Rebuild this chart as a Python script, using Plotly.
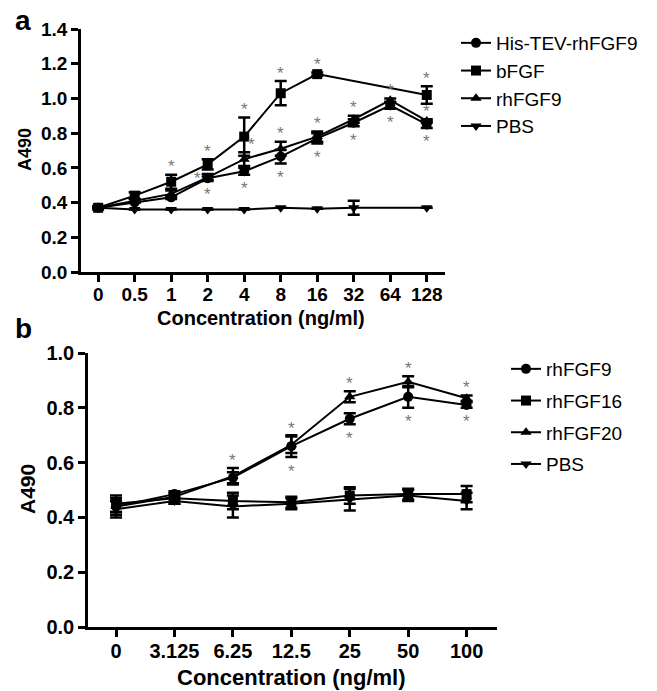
import plotly.graph_objects as go

W, H = 657, 691

# ---------------- Panel a data ----------------
conc_a = ["0", "0.5", "1", "2", "4", "8", "16", "32", "64", "128"]
his_tev = [0.37, 0.40, 0.43, 0.54, 0.58, 0.665, 0.77, 0.86, 0.96, 0.85]
his_tev_err = [0.0, 0.0, 0.01, 0.01, 0.02, 0.04, 0.03, 0.02, 0.02, 0.02]
bfgf = [0.37, 0.44, 0.52, 0.62, 0.78, 1.03, 1.14, None, None, 1.02]
bfgf_err = [0.01, 0.02, 0.04, 0.03, 0.11, 0.07, 0.01, 0.0, 0.0, 0.05]
rhfgf9_a = [0.37, 0.41, 0.45, 0.545, 0.65, 0.71, 0.78, 0.88, 0.99, 0.87]
rhfgf9_a_err = [0.0, 0.01, 0.02, 0.02, 0.04, 0.04, 0.03, 0.02, 0.01, 0.01]
pbs_a = [0.37, 0.36, 0.36, 0.36, 0.36, 0.37, 0.365, 0.37, None, 0.37]
pbs_a_err = [0.0, 0.0, 0.0, 0.0, 0.0, 0.0, 0.0, 0.04, 0.0, 0.0]

# significance marks (u = above, d = below, l = left of marker, ur = above right)
his_tev_sig = [None, None, None, "d", "d", "d", "d", "d", "d", "d"]
bfgf_sig = [None, None, "u", "u", "u", "u", "u", None, None, "u"]
rhfgf9_a_sig = [None, None, None, "l", "ur", "u", "u", "u", "u", "u"]

# ---------------- Panel b data ----------------
conc_b = ["0", "3.125", "6.25", "12.5", "25", "50", "100"]
rhfgf9_b = [0.44, 0.485, 0.545, 0.66, 0.76, 0.84, 0.81]
rhfgf9_b_err = [0.03, 0.01, 0.02, 0.04, 0.02, 0.04, 0.01]
rhfgf16 = [0.45, 0.47, 0.46, 0.455, 0.48, 0.485, 0.485]
rhfgf16_err = [0.03, 0.02, 0.03, 0.02, 0.03, 0.02, 0.03]
rhfgf20 = [0.44, 0.475, 0.55, 0.665, 0.84, 0.895, 0.835]
rhfgf20_err = [0.02, 0.01, 0.03, 0.03, 0.02, 0.02, 0.01]
pbs_b = [0.43, 0.46, 0.44, 0.45, 0.465, 0.48, 0.46]
pbs_b_err = [0.03, 0.01, 0.04, 0.02, 0.04, 0.02, 0.03]

rhfgf9_b_sig = [None, None, None, "d", "d", "d", "d"]
rhfgf20_sig = [None, None, "u", "u", "u", "u", "u"]

FONT = "Liberation Sans, Arial, sans-serif"

fig = go.Figure()


def add_series(x, y, err, name, symbol, xa, ya, legend, size):
    fig.add_trace(go.Scatter(
        x=x, y=y, name=name, mode="lines+markers",
        xaxis=xa, yaxis=ya, legend=legend, legendgroup=name + xa,
        connectgaps=True,
        line=dict(color="black", width=2),
        marker=dict(symbol=symbol, size=size, color="black"),
        error_y=dict(type="data", array=err, visible=True, color="black",
                     thickness=2.5, width=6),
    ))


add_series(conc_a, his_tev, his_tev_err, "His-TEV-rhFGF9", "circle", "x", "y", "legend", 10)
add_series(conc_a, bfgf, bfgf_err, "bFGF", "square", "x", "y", "legend", 10)
add_series(conc_a, rhfgf9_a, rhfgf9_a_err, "rhFGF9", "triangle-up", "x", "y", "legend", 10)
add_series(conc_a, pbs_a, pbs_a_err, "PBS", "triangle-down", "x", "y", "legend", 10)

add_series(conc_b, rhfgf9_b, rhfgf9_b_err, "rhFGF9", "circle", "x2", "y2", "legend2", 10)
add_series(conc_b, rhfgf16, rhfgf16_err, "rhFGF16", "square", "x2", "y2", "legend2", 10)
add_series(conc_b, rhfgf20, rhfgf20_err, "rhFGF20", "triangle-up", "x2", "y2", "legend2", 10)
add_series(conc_b, pbs_b, pbs_b_err, "PBS", "triangle-down", "x2", "y2", "legend2", 10)

annotations = []


def add_stars(y, err, sig, xr, yr):
    # x given as category index so numeric-looking labels are not misread
    for idx, (yi, ei, s) in enumerate(zip(y, err, sig)):
        if s is None or yi is None:
            continue
        if s.startswith("u"):
            yv, ys = yi + ei, 11
        elif s == "d":
            yv, ys = yi - ei, -11
        else:
            yv, ys = yi, 2
        xs = -10 if s == "l" else (7 if s.endswith("r") else 0)
        annotations.append(dict(
            x=idx, y=yv, xref=xr, yref=yr, text="*", showarrow=False,
            xshift=xs, yshift=ys - 3, xanchor="center", yanchor="middle",
            font=dict(family=FONT, size=17, color="#777777"),
        ))


add_stars(his_tev, his_tev_err, his_tev_sig, "x", "y")
add_stars(bfgf, bfgf_err, bfgf_sig, "x", "y")
add_stars(rhfgf9_a, rhfgf9_a_err, rhfgf9_a_sig, "x", "y")
add_stars(rhfgf9_b, rhfgf9_b_err, rhfgf9_b_sig, "x2", "y2")
add_stars(rhfgf20, rhfgf20_err, rhfgf20_sig, "x2", "y2")


def px(xp):
    return xp / W


def py(yp):
    return 1 - yp / H


def label(x, y, text, size, angle=0, xanchor="center"):
    annotations.append(dict(x=px(x), y=py(y), xref="paper", yref="paper", text=text,
                            showarrow=False, xanchor=xanchor, yanchor="middle",
                            textangle=angle,
                            font=dict(family=FONT, size=size, color="black")))


# panel letters
label(13, 20, "<b>a</b>", 28, xanchor="left")
label(13, 328, "<b>b</b>", 28, xanchor="left")
# axis titles
label(261, 318, "<b>Concentration (ng/ml)</b>", 20)
label(291, 677, "<b>Concentration (ng/ml)</b>", 22)
label(25, 150, "<b>A490</b>", 18, angle=-90)
label(27, 489, "<b>A490</b>", 21, angle=-90)

axis_common = dict(showline=True, linecolor="black", linewidth=2.5, ticks="outside",
                   ticklen=7, tickwidth=2.5, tickcolor="black", showgrid=False,
                   zeroline=False, automargin=False)

fig.update_layout(
    template="none",
    width=W, height=H, margin=dict(l=0, r=0, t=0, b=0, pad=0, autoexpand=False),
    paper_bgcolor="white", plot_bgcolor="white",
    showlegend=True,
    xaxis=dict(axis_common, type="category", domain=[px(81), px(445)], anchor="y",
               range=[-0.47, 9.5], ticklabelstandoff=-4,
               tickfont=dict(family=FONT, size=19, color="black", weight="bold")),
    yaxis=dict(axis_common, domain=[py(272), py(29)], anchor="x", range=[0, 1.4],
               dtick=0.2, tickformat=".1f",
               tickfont=dict(family=FONT, size=19, color="black", weight="bold")),
    xaxis2=dict(axis_common, type="category", domain=[px(88), px(497)], anchor="y2",
                range=[-0.48, 6.52], ticklabelstandoff=-3,
                tickfont=dict(family=FONT, size=20, color="black", weight="bold")),
    yaxis2=dict(axis_common, domain=[py(627), py(353)], anchor="x2", range=[0, 1.0],
                dtick=0.2, tickformat=".1f",
                tickfont=dict(family=FONT, size=20, color="black", weight="bold")),
    legend=dict(x=px(456), y=py(24), xanchor="left", yanchor="top",
                font=dict(family=FONT, size=19, color="black"),
                bgcolor="rgba(0,0,0,0)", traceorder="grouped", tracegroupgap=0),
    legend2=dict(x=px(506), y=py(350), xanchor="left", yanchor="top",
                 font=dict(family=FONT, size=19, color="black"),
                 bgcolor="rgba(0,0,0,0)", traceorder="grouped", tracegroupgap=4),
    annotations=annotations,
)

fig.write_html("out.html", config={"displayModeBar": False},
               post_script="document.body.style.margin='0';")
